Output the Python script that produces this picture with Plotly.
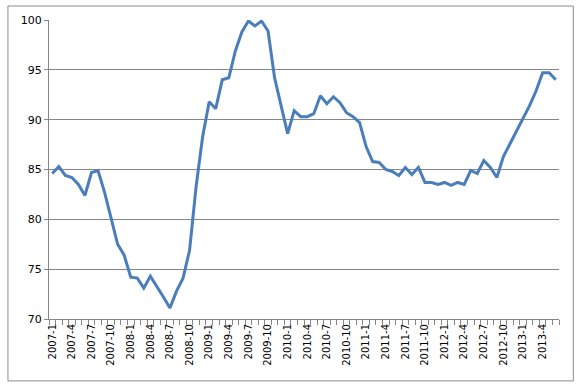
import plotly.graph_objects as go

months = [f"{y}-{m}" for y in range(2007, 2014) for m in range(1, 13)][:78]

values = [
    84.6, 85.3, 84.4, 84.2, 83.5, 82.4, 84.7, 84.9, 82.7, 80.1,
    77.5, 76.4, 74.2, 74.1, 73.1, 74.3, 73.3, 72.2, 71.1, 72.8,
    74.1, 76.9, 83.3, 88.3, 91.8, 91.1, 94.0, 94.2, 96.9, 98.8,
    99.9, 99.4, 99.9, 98.9, 94.2, 91.3, 88.6, 90.9, 90.3, 90.3,
    90.6, 92.4, 91.6, 92.3, 91.7, 90.7, 90.3, 89.7, 87.3, 85.8,
    85.7, 85.0, 84.8, 84.4, 85.2, 84.5, 85.2, 83.7, 83.7, 83.5,
    83.7, 83.4, 83.7, 83.5, 84.9, 84.6, 85.9, 85.2, 84.2, 86.3,
    87.6, 88.8, 90.1, 91.4, 92.9, 94.7, 94.7, 94.0,
]

y_ticks = [70, 75, 80, 85, 90, 95, 100]

positions = list(range(len(months)))
label_pos = positions[::3]
label_text = months[::3]

GRAY = "#868686"

fig = go.Figure()
fig.add_trace(go.Scatter(
    x=positions, y=values, mode="lines",
    line=dict(color="#4A7EBB", width=3),
    hoverinfo="skip",
))

fig.update_layout(
    width=581, height=387,
    margin=dict(l=49, r=22, t=20, b=68),
    paper_bgcolor="white", plot_bgcolor="white",
    showlegend=False,
    font=dict(family="DejaVu Sans", color="#000000"),
)

fig.update_xaxes(
    range=[-0.5, len(months) - 0.5],
    tickmode="array", tickvals=label_pos, ticktext=label_text,
    tickangle=-90, tickfont=dict(size=10),
    ticks="", showgrid=False, zeroline=False,
    showline=True, linecolor=GRAY, linewidth=1,
    minor=dict(tickmode="array", tickvals=[p - 0.5 for p in positions] + [len(months) - 0.5],
               ticks="outside", ticklen=5, tickcolor=GRAY, tickwidth=1, showgrid=False),
)

fig.update_yaxes(
    range=[70, 100],
    tickmode="array", tickvals=y_ticks,
    tickfont=dict(size=11),
    ticks="outside", ticklen=4, tickcolor=GRAY,
    showgrid=True, gridcolor=GRAY, gridwidth=1,
    zeroline=False,
    showline=True, linecolor=GRAY, linewidth=1,
)

fig.add_shape(
    type="rect", xref="paper", yref="paper",
    x0=-0.0805, x1=1.028, y0=-0.207, y1=1.0468,
    line=dict(color="#8C8C8C", width=1), fillcolor="rgba(0,0,0,0)",
    layer="below",
)

fig.write_html(
    "out.html",
    config={"displayModeBar": False, "staticPlot": True},
    post_script="document.body.style.margin='0';document.body.style.overflow='hidden';",
)
